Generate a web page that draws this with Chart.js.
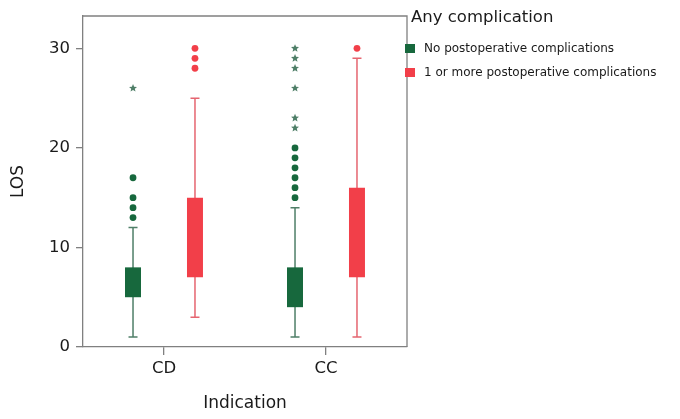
<!DOCTYPE html>
<html>
<head>
<meta charset="utf-8">
<script src="https://cdn.jsdelivr.net/npm/chart.js@4.4.0/dist/chart.umd.min.js"></script>
<style>
  body { margin: 0; background: #fff; }
  #wrap { position: relative; width: 680px; height: 419px; font-family: "DejaVu Sans", Verdana, sans-serif; color: #1a1a1a; }
  #legend { position: absolute; left: 405px; top: 0; }
  #legend .title { position: absolute; left: 6px; top: 7px; font-size: 16.5px; white-space: nowrap; }
  #legend .item { position: absolute; left: 0; font-size: 12px; white-space: nowrap; }
  #legend .sw { display: inline-block; width: 10px; height: 9px; margin-right: 9px; vertical-align: -1px; }
</style>
</head>
<body>
<div id="wrap">
  <canvas id="boxChart" width="680" height="419"></canvas>
  <div id="legend"></div>
</div>
<script>
const categories = ["CD", "CC"];
const yTicks = [0, 10, 20, 30];
const seriesNames = ["No postoperative complications", "1 or more postoperative complications"];

// No postoperative complications
const noCompLow = [1, 1];
const noCompQ1 = [5, 4];
const noCompQ3 = [8, 8];
const noCompHigh = [12, 14];
const noCompCircles = [[13, 14, 15, 17], [15, 16, 17, 18, 19, 20]];
const noCompStars = [[26], [22, 23, 26, 28, 29, 30]];

// 1 or more postoperative complications
const compLow = [3, 1];
const compQ1 = [7, 7];
const compQ3 = [15, 16];
const compHigh = [25, 29];
const compCircles = [[28, 29, 30], [30]];
const compStars = [[], []];

const green = "#17683d";
const red = "#f23f49";

function drawStar(ctx, x, y, r) {
    ctx.beginPath();
    for (let k = 0; k < 10; k++) {
        const rad = k % 2 === 0 ? r : r * 0.45;
        const a = -Math.PI / 2 + k * Math.PI / 5;
        const px = x + rad * Math.cos(a);
        const py = y + rad * Math.sin(a);
        if (k === 0) ctx.moveTo(px, py); else ctx.lineTo(px, py);
    }
    ctx.closePath();
    ctx.fill();
}

const boxExtras = {
    id: "boxExtras",
    beforeDatasetsDraw(chart) {
        const ctx = chart.ctx;
        const y = chart.scales.y;
        chart.data.datasets.forEach((ds, i) => {
            const meta = chart.getDatasetMeta(i);
            meta.data.forEach((el, j) => {
                const x = el.x;
                const lo = y.getPixelForValue(ds.low[j]);
                const hi = y.getPixelForValue(ds.high[j]);
                ctx.save();
                ctx.strokeStyle = ds.whiskerColor;
                ctx.lineWidth = 1.5;
                ctx.beginPath();
                ctx.moveTo(x, lo);
                ctx.lineTo(x, hi);
                ctx.moveTo(x - 4.5, lo);
                ctx.lineTo(x + 4.5, lo);
                ctx.moveTo(x - 4.5, hi);
                ctx.lineTo(x + 4.5, hi);
                ctx.stroke();
                ctx.restore();
            });
        });
    },
    afterDatasetsDraw(chart) {
        const ctx = chart.ctx;
        const y = chart.scales.y;
        chart.data.datasets.forEach((ds, i) => {
            const meta = chart.getDatasetMeta(i);
            meta.data.forEach((el, j) => {
                ctx.save();
                ctx.fillStyle = ds.backgroundColor;
                for (const v of ds.circles[j]) {
                    ctx.beginPath();
                    ctx.arc(el.x, y.getPixelForValue(v), 3.4, 0, Math.PI * 2);
                    ctx.fill();
                }
                ctx.fillStyle = ds.starColor;
                for (const v of ds.stars[j]) {
                    drawStar(ctx, el.x, y.getPixelForValue(v), 4.2);
                }
                ctx.restore();
            });
        });
        // frame top and right
        const a = chart.chartArea;
        ctx.save();
        ctx.strokeStyle = "#808080";
        ctx.lineWidth = 1.3;
        ctx.beginPath();
        ctx.moveTo(a.left, a.top);
        ctx.lineTo(a.right, a.top);
        ctx.lineTo(a.right, a.bottom);
        ctx.stroke();
        ctx.restore();
    }
};

const tickFont = { family: "DejaVu Sans", size: 16.5 };
const titleFont = { family: "DejaVu Sans", size: 17 };

new Chart(document.getElementById("boxChart"), {
    type: "bar",
    data: {
        labels: categories,
        datasets: [
            {
                label: seriesNames[0],
                data: noCompQ1.map((q, i) => [q, noCompQ3[i]]),
                low: noCompLow,
                high: noCompHigh,
                circles: noCompCircles,
                stars: noCompStars,
                backgroundColor: green,
                whiskerColor: "#4f7f68",
                starColor: "#4f7f68",
                borderWidth: 0,
                categoryPercentage: 0.765,
                barPercentage: 0.258
            },
            {
                label: seriesNames[1],
                data: compQ1.map((q, i) => [q, compQ3[i]]),
                low: compLow,
                high: compHigh,
                circles: compCircles,
                stars: compStars,
                backgroundColor: red,
                whiskerColor: "#e56570",
                starColor: red,
                borderWidth: 0,
                categoryPercentage: 0.765,
                barPercentage: 0.258
            }
        ]
    },
    options: {
        responsive: false,
        devicePixelRatio: 1,
        animation: false,
        layout: { padding: { left: 0, right: 273, top: 16, bottom: 0 } },
        plugins: {
            legend: { display: false },
            tooltip: { enabled: false }
        },
        scales: {
            x: {
                offset: true,
                grid: { drawOnChartArea: false, offset: false, tickLength: 8, color: "#808080", lineWidth: 1.3 },
                border: { color: "#808080", width: 1.3 },
                ticks: { font: tickFont, color: "#1a1a1a", padding: 4 },
                title: { display: true, text: "Indication", font: titleFont, color: "#1a1a1a", padding: { top: 0, bottom: 5 } },
                afterFit(scale) { scale.height = 72; }
            },
            y: {
                min: 0,
                max: 33.25,
                grid: { drawOnChartArea: false, tickLength: 7, color: "#808080", lineWidth: 1.3 },
                border: { color: "#808080", width: 1.3 },
                ticks: { font: tickFont, color: "#1a1a1a", padding: 6, stepSize: 10 },
                afterBuildTicks(scale) { scale.ticks = yTicks.map(v => ({ value: v })); },
                title: { display: true, text: "LOS", font: titleFont, color: "#1a1a1a", padding: { top: 8, bottom: 8 } },
                afterFit(scale) { scale.width = 83; }
            }
        }
    },
    plugins: [boxExtras]
});

// legend
const legend = document.getElementById("legend");
const t = document.createElement("div");
t.className = "title";
t.textContent = "Any complication";
legend.appendChild(t);
[green, red].forEach((c, i) => {
    const d = document.createElement("div");
    d.className = "item";
    d.style.top = (41 + i * 24) + "px";
    const sw = document.createElement("span");
    sw.className = "sw";
    sw.style.background = c;
    d.appendChild(sw);
    d.appendChild(document.createTextNode(seriesNames[i]));
    legend.appendChild(d);
});
</script>
</body>
</html>
